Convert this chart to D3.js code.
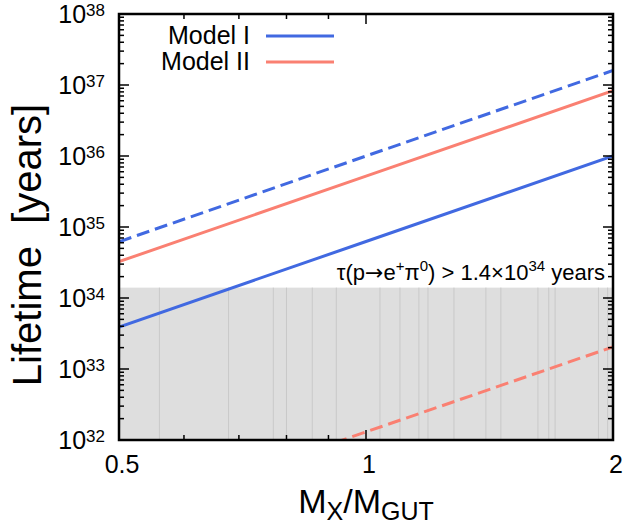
<!DOCTYPE html>
<html>
<head>
<meta charset="utf-8">
<script src="https://cdn.jsdelivr.net/npm/d3@7"></script>
<style>
  html, body { margin: 0; padding: 0; background: #fff; }
  svg text { font-family: "Liberation Sans", Arial, Helvetica, sans-serif; fill: #000; white-space: pre; }
</style>
</head>
<body>
<svg id="chart" width="623" height="527"></svg>
<script>
// mass ratio M_X / M_GUT
var massRatio = [0.5, 1, 2];

// proton lifetime in years
var modelISolid   = [3.9e33, 6.25e34, 1.0e36];
var modelIDashed  = [6.2e34, 1.0e36, 1.6e37];
var modelIISolid  = [3.25e34, 5.2e35, 8.3e36];
var modelIIDashed = [8.0e30, 1.3e32, 2.05e33];

var boundValue = 1.4e34;

// faint seams inside the excluded band
var seams = [0.56, 0.68, 0.771, 0.80, 0.86, 0.92, 1.04, 1.10, 1.16, 1.19,
             1.28, 1.40, 1.46, 1.62, 1.67, 1.70, 1.92, 1.97];

var yMajor = [32, 33, 34, 35, 36, 37, 38];
var xLabels = [0.5, 1, 2];

var series = [
    { values: modelISolid,   color: '#4169e1', dash: null },
    { values: modelIDashed,  color: '#4169e1', dash: '13,6' },
    { values: modelIISolid,  color: '#fa8072', dash: null },
    { values: modelIIDashed, color: '#fa8072', dash: '13,6' }
];

var legend = [
    { name: 'Model I',  color: '#4169e1' },
    { name: 'Model II', color: '#fa8072' }
];

(function () {
    'use strict';

    var width = 623, height = 527;
    var margin = { top: 14, right: 10, bottom: 87, left: 119 };
    var w = width - margin.left - margin.right;
    var h = height - margin.top - margin.bottom;

    var svg = d3.select('#chart');
    var g = svg.append('g').attr('transform', 'translate(' + margin.left + ',' + margin.top + ')');

    var x = d3.scaleLog().domain([0.5, 2]).range([0, w]);
    var y = d3.scaleLog().domain([1e32, 1e38]).range([h, 0]);

    g.append('clipPath').attr('id', 'plot-clip')
        .append('rect').attr('width', w).attr('height', h);

    // excluded region below the experimental bound
    g.append('rect')
        .attr('x', 0)
        .attr('y', y(boundValue))
        .attr('width', w)
        .attr('height', h - y(boundValue))
        .attr('fill', '#dedede');

    g.selectAll('.seam')
        .data(seams)
        .enter()
        .append('line')
        .attr('class', 'seam')
        .attr('x1', function (d) { return x(d); })
        .attr('x2', function (d) { return x(d); })
        .attr('y1', y(boundValue))
        .attr('y2', h)
        .attr('stroke', '#c9c9c9')
        .attr('stroke-width', 1);

    // curves
    var line = d3.line()
        .x(function (d, i) { return x(massRatio[i]); })
        .y(function (d) { return y(d); });

    var plot = g.append('g').attr('clip-path', 'url(#plot-clip)');
    series.forEach(function (s) {
        plot.append('path')
            .datum(s.values)
            .attr('d', line)
            .attr('fill', 'none')
            .attr('stroke', s.color)
            .attr('stroke-width', 3)
            .attr('stroke-dasharray', s.dash);
    });

    // ticks, drawn inward on all four sides
    var yTicks = y.ticks();
    var isMajorY = function (d) { return Math.abs(Math.log10(d) - Math.round(Math.log10(d))) < 1e-9; };
    var ticksG = g.append('g');
    yTicks.forEach(function (d) {
        var len = isMajorY(d) ? 10 : 5;
        var yy = y(d);
        ticksG.append('line').attr('x1', 0).attr('x2', len).attr('y1', yy).attr('y2', yy)
            .attr('stroke', '#000').attr('stroke-width', 1.5);
        ticksG.append('line').attr('x1', w).attr('x2', w - len).attr('y1', yy).attr('y2', yy)
            .attr('stroke', '#000').attr('stroke-width', 1.5);
    });

    var xTicks = x.ticks().filter(function (d) { return d > 0.5 && d < 2; });
    xTicks.forEach(function (d) {
        var len = Math.abs(d - 1) < 1e-9 ? 10 : 5;
        var xx = x(d);
        ticksG.append('line').attr('x1', xx).attr('x2', xx).attr('y1', h).attr('y2', h - len)
            .attr('stroke', '#000').attr('stroke-width', 1.5);
        ticksG.append('line').attr('x1', xx).attr('x2', xx).attr('y1', 0).attr('y2', len)
            .attr('stroke', '#000').attr('stroke-width', 1.5);
    });

    // frame
    g.append('rect')
        .attr('width', w).attr('height', h)
        .attr('fill', 'none')
        .attr('stroke', '#000')
        .attr('stroke-width', 2.5);

    // y tick labels: 10^n
    var yl = g.selectAll('.ylabel')
        .data(yMajor)
        .enter()
        .append('text')
        .attr('class', 'ylabel')
        .attr('x', -14)
        .attr('y', function (d) { return y(Math.pow(10, d)) + 9; })
        .attr('text-anchor', 'end')
        .style('font-size', '25px');
    yl.append('tspan').text('10');
    yl.append('tspan')
        .attr('dy', -7)
        .style('font-size', '17px')
        .text(function (d) { return d; });

    // x tick labels
    g.selectAll('.xlabel')
        .data(xLabels)
        .enter()
        .append('text')
        .attr('class', 'xlabel')
        .attr('x', function (d) { return x(d) + 3; })
        .attr('y', h + 33)
        .attr('text-anchor', 'middle')
        .style('font-size', '25px')
        .text(function (d) { return d; });

    // axis titles
    var xt = svg.append('text')
        .attr('x', margin.left + w / 2)
        .attr('y', 513)
        .attr('text-anchor', 'middle')
        .style('font-size', '34px');
    xt.append('tspan').text('M');
    xt.append('tspan').attr('dy', 7).style('font-size', '25px').text('X');
    xt.append('tspan').attr('dy', -7).text('/M');
    xt.append('tspan').attr('dy', 7).style('font-size', '25px').text('GUT');

    svg.append('text')
        .attr('transform', 'translate(41,' + 245 + ') rotate(-90)')
        .attr('text-anchor', 'middle')
        .style('font-size', '40px')
        .text('Lifetime  [years]');

    // bound annotation
    var ann = g.append('text')
        .attr('x', w - 8)
        .attr('y', y(boundValue) - 8)
        .attr('text-anchor', 'end')
        .style('font-size', '22px');
    ann.append('tspan').text('τ(p');
    ann.append('tspan').style('font-family', '"DejaVu Sans", sans-serif').text('→');
    ann.append('tspan').text('e');
    ann.append('tspan').attr('dy', -9).style('font-size', '15px').text('+');
    ann.append('tspan').attr('dy', 9).text('π');
    ann.append('tspan').attr('dy', -9).style('font-size', '15px').text('0');
    ann.append('tspan').attr('dy', 9).text(') > 1.4×10');
    ann.append('tspan').attr('dy', -9).style('font-size', '15px').text('34');
    ann.append('tspan').attr('dy', 9).text(' years');

    // legend
    var lg = svg.append('g');
    legend.forEach(function (d, i) {
        var ly = 36 + i * 26;
        lg.append('text')
            .attr('x', 250)
            .attr('y', ly + 8)
            .attr('text-anchor', 'end')
            .style('font-size', '25px')
            .text(d.name);
        lg.append('line')
            .attr('x1', 266).attr('x2', 334)
            .attr('y1', ly).attr('y2', ly)
            .attr('stroke', d.color)
            .attr('stroke-width', 3);
    });
})();
</script>
</body>
</html>
